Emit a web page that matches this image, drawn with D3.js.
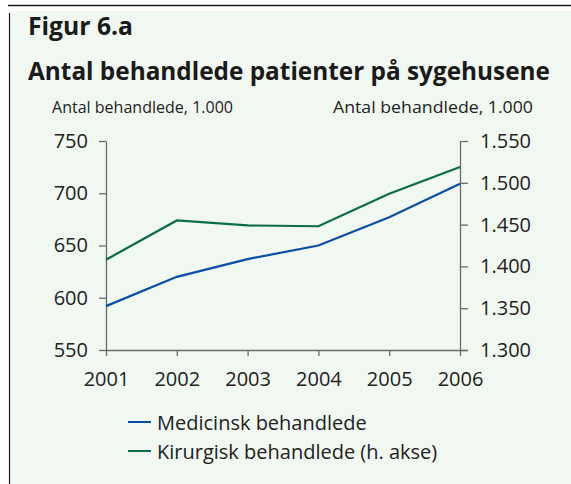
<!DOCTYPE html>
<html>
<head>
<meta charset="utf-8">
<script src="https://cdn.jsdelivr.net/npm/d3@7"></script>
<style>
  body { margin: 0; background: #fff; }
  svg { display: block; font-family: "Open Sans", sans-serif; }
</style>
</head>
<body>
<svg width="571" height="484"></svg>
<script>
// Data
const years = [2001, 2002, 2003, 2004, 2005, 2006];
const medicinsk = [592, 620, 637, 650, 677, 709];       // left axis, 1.000
const kirurgisk = [1408, 1455, 1449, 1448, 1487, 1519]; // right axis, 1.000
const leftTicks = [550, 600, 650, 700, 750];
const rightTicks = [1300, 1350, 1400, 1450, 1500, 1550];
const seriesNames = ["Medicinsk behandlede", "Kirurgisk behandlede (h. akse)"];
const colors = ["#0b4ea2", "#0b6b4c"];

const svg = d3.select("svg");
const fmt = d => d3.format(",")(d).replace(/,/g, ".");

// background panel
svg.append("rect").attr("x", 10).attr("y", 11).attr("width", 561).attr("height", 473)
    .attr("fill", "#f1f7f1");
svg.append("line").attr("x1", 8).attr("x2", 571).attr("y1", 5.5).attr("y2", 5.5)
    .attr("stroke", "#1a1a1a").attr("stroke-width", 1.5);
svg.append("line").attr("x1", 9.5).attr("x2", 9.5).attr("y1", 13).attr("y2", 484)
    .attr("stroke", "#1a1a1a").attr("stroke-width", 1.2);

// titles
svg.append("text").attr("x", 28).attr("y", 35).attr("font-size", 25).attr("font-weight", 700)
    .attr("fill", "#1a1a1a").attr("textLength", 105).attr("lengthAdjust", "spacingAndGlyphs")
    .text("Figur 6.a");
svg.append("text").attr("x", 28).attr("y", 80).attr("font-size", 25).attr("font-weight", 700)
    .attr("fill", "#1a1a1a").attr("textLength", 522).attr("lengthAdjust", "spacingAndGlyphs")
    .text("Antal behandlede patienter på sygehusene");
svg.append("text").attr("x", 52).attr("y", 113).attr("font-size", 17).attr("fill", "#222")
    .attr("textLength", 181).attr("lengthAdjust", "spacingAndGlyphs")
    .text("Antal behandlede, 1.000");
svg.append("text").attr("x", 333).attr("y", 113).attr("font-size", 17).attr("fill", "#222")
    .attr("textLength", 200).attr("lengthAdjust", "spacingAndGlyphs")
    .text("Antal behandlede, 1.000");

const plotLeft = 106, plotRight = 460, plotTop = 141, plotBottom = 350;

const x = d3.scaleLinear().domain([2001, 2006]).range([plotLeft, plotRight]);
const yL = d3.scaleLinear().domain([550, 750]).range([plotBottom, plotTop]);
const yR = d3.scaleLinear().domain([1300, 1550]).range([plotBottom, plotTop]);

const axisColor = "#6b6b6b";

function styleAxis(g) {
    g.selectAll("path, line").attr("stroke", axisColor).attr("stroke-width", 1.3);
    g.selectAll("text").attr("fill", "#222").attr("font-size", 20)
        .attr("font-family", "'Open Sans', sans-serif");
}

svg.append("g").attr("transform", `translate(${plotLeft},0)`)
    .call(d3.axisLeft(yL).tickValues(leftTicks).tickSize(7).tickSizeOuter(0).tickPadding(11))
    .call(styleAxis);

svg.append("g").attr("transform", `translate(${plotRight},0)`)
    .call(d3.axisRight(yR).tickValues(rightTicks).tickFormat(fmt).tickSize(8).tickSizeOuter(0).tickPadding(12))
    .call(styleAxis);

svg.append("g").attr("transform", `translate(0,${plotBottom})`)
    .call(d3.axisBottom(x).tickValues(years).tickFormat(d3.format("d")).tickSize(6).tickSizeOuter(0).tickPadding(16))
    .call(styleAxis)
    .call(g => g.select(".domain").attr("d", `M${plotLeft},0.5H${plotRight + 8}`));

// lines
const lineL = d3.line().x((d, i) => x(years[i])).y(d => yL(d));
const lineR = d3.line().x((d, i) => x(years[i])).y(d => yR(d));

svg.append("path").datum(kirurgisk).attr("d", lineR)
    .attr("fill", "none").attr("stroke", colors[1]).attr("stroke-width", 2.2);
svg.append("path").datum(medicinsk).attr("d", lineL)
    .attr("fill", "none").attr("stroke", colors[0]).attr("stroke-width", 2.2);

// legend
const legend = svg.append("g").selectAll("g").data(seriesNames).join("g")
    .attr("transform", (d, i) => `translate(128,${422 + i * 29})`);
legend.append("line").attr("x1", 0).attr("x2", 23).attr("y1", 0).attr("y2", 0)
    .attr("stroke", (d, i) => colors[i]).attr("stroke-width", 2);
legend.append("text").attr("x", 29).attr("y", 7.5).attr("font-size", 20).attr("fill", "#222")
    .text(d => d);
</script>
</body>
</html>
